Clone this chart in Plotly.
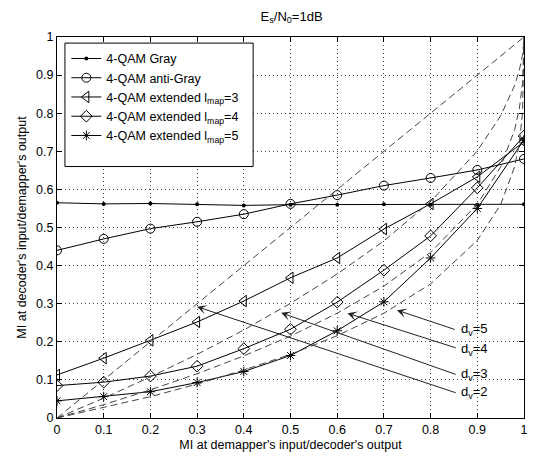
import plotly.graph_objects as go

# ---- data ----
x_pts = [0, 0.1, 0.2, 0.3, 0.4, 0.5, 0.6, 0.7, 0.8, 0.9, 1.0]

gray      = [0.565, 0.562, 0.563, 0.561, 0.558, 0.560, 0.560, 0.561, 0.560, 0.560, 0.561]
anti_gray = [0.440, 0.470, 0.497, 0.515, 0.535, 0.562, 0.585, 0.610, 0.630, 0.651, 0.680]
ext_l3    = [0.113, 0.157, 0.204, 0.252, 0.307, 0.368, 0.420, 0.496, 0.562, 0.633, 0.725]
ext_l4    = [0.085, 0.094, 0.110, 0.136, 0.182, 0.233, 0.304, 0.388, 0.478, 0.604, 0.740]
ext_l5    = [0.045, 0.056, 0.069, 0.093, 0.122, 0.164, 0.229, 0.305, 0.420, 0.550, 0.730]

# decoder (dashed) curves
dec_x   = [0, 0.1, 0.2, 0.3, 0.4, 0.5, 0.6, 0.7, 0.8, 0.9, 0.95, 0.98, 0.99, 0.997, 1.0]
dec_dv2 = [0, 0.1, 0.2, 0.3, 0.4, 0.5, 0.6, 0.7, 0.8, 0.9, 0.95, 0.98, 0.99, 0.997, 1.0]
dec_dv3 = [0, 0.052, 0.108, 0.167, 0.231, 0.301, 0.378, 0.465, 0.568, 0.701, 0.793, 0.873, 0.913, 0.954, 1.0]
dec_dv4 = [0, 0.035, 0.074, 0.116, 0.163, 0.215, 0.275, 0.346, 0.435, 0.561, 0.659, 0.757, 0.812, 0.880, 1.0]
dec_dv5 = [0, 0.027, 0.056, 0.089, 0.126, 0.167, 0.216, 0.275, 0.352, 0.466, 0.560, 0.660, 0.721, 0.803, 1.0]

tick_vals = [0, 0.1, 0.2, 0.3, 0.4, 0.5, 0.6, 0.7, 0.8, 0.9, 1]
tick_text = ["0", "0.1", "0.2", "0.3", "0.4", "0.5", "0.6", "0.7", "0.8", "0.9", "1"]

dv_labels = ["d<sub>v</sub>=5", "d<sub>v</sub>=4", "d<sub>v</sub>=3", "d<sub>v</sub>=2"]
arrow_head = [(0.728, 0.283), (0.622, 0.275), (0.480, 0.276), (0.300, 0.292)]
arrow_tail = [(0.855, 0.231), (0.857, 0.183), (0.857, 0.113), (0.857, 0.065)]
label_pos  = [(0.860, 0.231), (0.860, 0.181), (0.860, 0.114), (0.860, 0.066)]

FONT = "Liberation Sans, Arial, sans-serif"

fig = go.Figure()

series = [
    ("4-QAM Gray", gray, dict(symbol="circle", size=4, color="black")),
    ("4-QAM anti-Gray", anti_gray, dict(symbol="circle-open", size=9, color="black", line=dict(width=1))),
    ("4-QAM extended l<sub>map</sub>=3", ext_l3, dict(symbol="triangle-left-open", size=10, color="black", line=dict(width=1))),
    ("4-QAM extended l<sub>map</sub>=4", ext_l4, dict(symbol="diamond-open", size=9, color="black", line=dict(width=1))),
    ("4-QAM extended l<sub>map</sub>=5", ext_l5, dict(symbol="asterisk-open", size=8, color="black", line=dict(width=1))),
]
for name, ys, mk in series:
    fig.add_trace(go.Scatter(x=x_pts, y=ys, mode="lines+markers", name=name,
                             line=dict(color="black", width=1), marker=mk))

for ys in [dec_dv2, dec_dv3, dec_dv4, dec_dv5]:
    fig.add_trace(go.Scatter(x=dec_x, y=ys, mode="lines", showlegend=False,
                             line=dict(color="#444", width=1, dash="7px,4px")))

annotations = []
for lab, (hx, hy), (tx, ty), (lx, ly) in zip(dv_labels, arrow_head, arrow_tail, label_pos):
    annotations.append(dict(x=hx, y=hy, ax=tx, ay=ty, xref="x", yref="y", axref="x", ayref="y",
                            text="", showarrow=True, arrowhead=3, arrowsize=1.6, arrowwidth=1,
                            arrowcolor="#222", standoff=0, startstandoff=0))
    annotations.append(dict(x=lx, y=ly, xref="x", yref="y", text=lab, showarrow=False,
                            xanchor="left", yanchor="middle",
                            font=dict(family=FONT, size=13, color="black")))

axis_common = dict(range=[0, 1], tickvals=tick_vals, ticktext=tick_text,
                   showgrid=True, gridcolor="#444", gridwidth=1, griddash="1px,3px",
                   zeroline=False, showline=True, linecolor="black", linewidth=1,
                   mirror="allticks", ticks="inside", ticklen=5, tickcolor="black",
                   tickfont=dict(family=FONT, size=12.5, color="black"))

# legend box (drawn as a shape so it can have MATLAB-like padding)
legend_box = dict(type="rect", xref="paper", yref="paper",
                  x0=0.017, x1=0.42, y0=0.66, y1=0.984,
                  fillcolor="white", line=dict(color="black", width=1), layer="above")

fig.update_layout(
    width=535, height=457,
    margin=dict(l=57, r=7, t=37, b=39),
    paper_bgcolor="white", plot_bgcolor="white",
    title=dict(text="E<sub>s</sub>/N<sub>0</sub>=1dB", x=0.545, xanchor="center", y=0.975, yanchor="top",
               font=dict(family=FONT, size=13, color="black")),
    xaxis=dict(axis_common, title=dict(text="MI at demapper's input/decoder's output",
                                       font=dict(family=FONT, size=12.5, color="black"), standoff=4)),
    yaxis=dict(axis_common, title=dict(text="MI at decoder's input/demapper's output",
                                       font=dict(family=FONT, size=12.5, color="black"), standoff=6)),
    legend=dict(x=0.02, y=0.982, xanchor="left", yanchor="top",
                bgcolor="rgba(0,0,0,0)", borderwidth=0,
                font=dict(family=FONT, size=12.5, color="black"), tracegroupgap=0),
    shapes=[legend_box],
    annotations=annotations,
    showlegend=True,
)

fig.write_html("out.html")
